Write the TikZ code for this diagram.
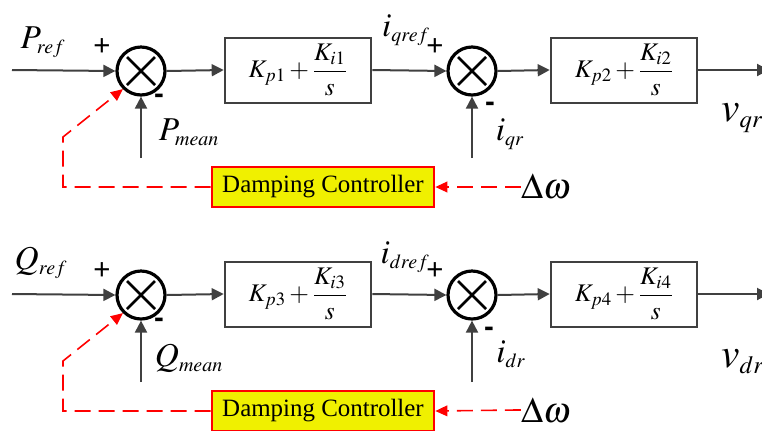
\documentclass[tikz,border=0pt]{standalone}
\usepackage{amsmath}
\usepackage{mathptmx}
\usepackage{fontspec}
\setmainfont{Liberation Serif}
\newfontfamily\sgnfont{Liberation Sans}
\usetikzlibrary{arrows.meta,positioning}
\definecolor{dmpyellow}{RGB}{240,240,0}
\definecolor{lnc}{RGB}{64,64,64}
\newcommand{\ssub}[1]{_{\scriptscriptstyle #1}}
\tikzset{
  sum/.style={circle, draw=black, line width=2.4pt, minimum size=36pt, inner sep=0pt,
    path picture={\draw[line width=2pt]
      ([shift={(-10.5pt,-10.5pt)}]path picture bounding box.center) -- ([shift={(10.5pt,10.5pt)}]path picture bounding box.center)
      ([shift={(-10.5pt,10.5pt)}]path picture bounding box.center) -- ([shift={(10.5pt,-10.5pt)}]path picture bounding box.center);}},
  piblk/.style={draw=lnc, line width=1.5pt, minimum width=110pt, minimum height=48.75pt, inner sep=0pt, font=\fontsize{19}{22}\selectfont},
  dmp/.style={draw=red, fill=dmpyellow, line width=1.5pt, minimum width=167pt, minimum height=30pt, inner sep=0pt, font=\fontsize{18.7}{20}\selectfont},
  arr/.style={-{Triangle[length=9pt,width=9pt]}, line width=1.5pt, draw=lnc},
  darr/.style={-{Triangle[length=9pt,width=8pt]}, line width=1.2pt, red, dash pattern=on 12pt off 6pt},
  lbl/.style={inner sep=0pt, font=\fontsize{25}{27}\selectfont},
  vlbl/.style={inner sep=0pt, font=\fontsize{31}{33}\selectfont},
  dwlbl/.style={inner sep=0pt, font=\fontsize{27}{29}\selectfont},
  sgn/.style={inner sep=0pt, font=\sgnfont\fontsize{22}{24}\selectfont},
  msgn/.style={inner sep=0pt, font=\sgnfont\bfseries\fontsize{22}{24}\selectfont},
}
\begin{document}
\begin{tikzpicture}[x=0.75pt,y=-0.75pt]
\clip (0,0) rectangle (762,430);
% upper loop: P -> i_qref -> v_qr
\coordinate (inP) at (12,70);
\node[sum] (sP) at (141,71) {};
\node[piblk] (pi1) at (298,70) {$K_{p1}+\dfrac{K_{i1}}{s}$};
\node[sum] (sIq) at (472,71) {};
\node[piblk] (pi2) at (624,70) {$K_{p2}+\dfrac{K_{i2}}{s}$};
\coordinate (outP) at (769,70);
\coordinate (mP) at (141,158);
\coordinate (mIq) at (472,158);
\node[dmp] (dmpP) at (323,187) {Damping Controller};
\node[dwlbl] (dwP) at (546,187) {$\Delta\omega$};
\coordinate (fbP) at (63,137);
\node[lbl] (lPref) at (43,42) {$P\ssub{ref}$};
\node[lbl] (lPmean) at (189,132) {$P\ssub{mean}$};
\node[lbl] (lIqref) at (406,30) {$i\ssub{qref}$};
\node[lbl] (lIqr) at (510,134) {$i\ssub{qr}$};
\node[vlbl, anchor=west] (lVqr) at (721,118) {$v\ssub{qr}$};
\node[sgn] at (102,47) {+};
\node[msgn] at (159,99) {-};
\node[sgn] at (435,47) {+};
\node[msgn] at (490,107) {-};
\draw[arr] (inP) -- (sP.west);
\draw[arr] (sP.east) -- (pi1.west);
\draw[arr] (pi1.east) -- (sIq.west);
\draw[arr] (sIq.east) -- (pi2.west);
\draw[arr] (pi2.east) -- (outP);
\draw[arr] (mP) -- (sP.south);
\draw[arr] (mIq) -- (sIq.south);
\draw[darr] (dwP.west) -- ++(-5,0) -- (dmpP.east);
\draw[darr] (dmpP.west) -| (fbP) -- (sP.-135);
% lower loop: Q -> i_dref -> v_dr
\coordinate (inQ) at (12,294);
\node[sum] (sQ) at (141,295) {};
\node[piblk] (pi3) at (298,294) {$K_{p3}+\dfrac{K_{i3}}{s}$};
\node[sum] (sId) at (472,295) {};
\node[piblk] (pi4) at (624,294) {$K_{p4}+\dfrac{K_{i4}}{s}$};
\coordinate (outQ) at (769,294);
\coordinate (mQ) at (141,382);
\coordinate (mId) at (472,382);
\node[dmp] (dmpQ) at (323,411) {Damping Controller};
\node[dwlbl] (dwQ) at (546,410) {$\Delta\omega$};
\coordinate (fbQ) at (63,361);
\node[lbl] (lQref) at (41,263) {$Q\ssub{ref}$};
\node[lbl] (lQmean) at (189,358) {$Q\ssub{mean}$};
\node[lbl] (lIdref) at (405,257) {$i\ssub{dref}$};
\node[lbl] (lIdr) at (511,354) {$i\ssub{dr}$};
\node[vlbl, anchor=west] (lVdr) at (721,362) {$v\ssub{dr}$};
\node[sgn] at (102,271) {+};
\node[msgn] at (159,323) {-};
\node[sgn] at (435,271) {+};
\node[msgn] at (489,332) {-};
\draw[arr] (inQ) -- (sQ.west);
\draw[arr] (sQ.east) -- (pi3.west);
\draw[arr] (pi3.east) -- (sId.west);
\draw[arr] (sId.east) -- (pi4.west);
\draw[arr] (pi4.east) -- (outQ);
\draw[arr] (mQ) -- (sQ.south);
\draw[arr] (mId) -- (sId.south);
\draw[darr] (dwQ.west) -- ++(-5,0) -- (dmpQ.east);
\draw[darr] (dmpQ.west) -| (fbQ) -- (sQ.-135);
\end{tikzpicture}
\end{document}
